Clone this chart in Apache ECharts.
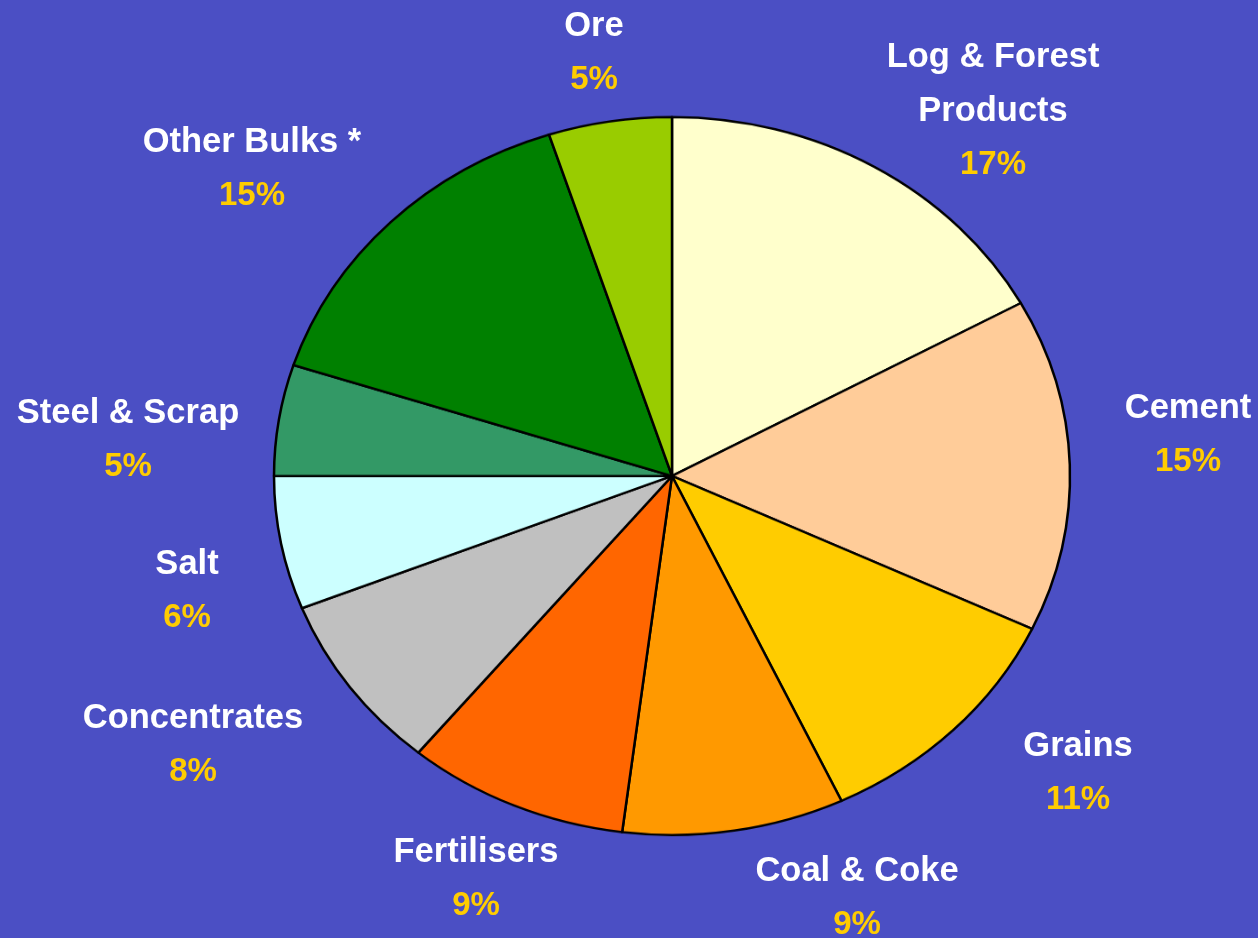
<!DOCTYPE html>
<html>
<head>
<meta charset="utf-8">
<script src="https://cdn.jsdelivr.net/npm/echarts@6/dist/echarts.min.js"></script>
<style>
  html, body { margin: 0; padding: 0; background: #4B4FC4; overflow: hidden; }
  #wrap { position: relative; width: 1258px; height: 938px; }
  #pie { position: absolute; left: 0; top: 0; width: 1258px; transform-origin: 0 0; }
  #labels { position: absolute; left: 0; top: 0; width: 1258px; height: 938px; }
</style>
</head>
<body>
<div id="wrap">
  <div id="pie"></div>
  <div id="labels"></div>
</div>
<script>
// Bulk cargo mix by commodity, percent of tonnage
const categories = ['Log & Forest\nProducts', 'Cement', 'Grains', 'Coal & Coke', 'Fertilisers',
                    'Concentrates', 'Salt', 'Steel & Scrap', 'Other Bulks *', 'Ore'];
const shares = [17, 15, 11, 9, 9, 8, 6, 5, 15, 5];
const sliceColors = ['#FFFFCC', '#FFCC99', '#FFCC00', '#FF9900', '#FF6600',
                     '#C0C0C0', '#CCFFFF', '#339966', '#008000', '#99CC00'];

// Layout: the pie is drawn as an ellipse (vertical squash of a circle)
const W = 1258, H = 938;
const CX = 672, CY = 476, RX = 398, RY = 359;
const SQUASH = RY / RX;

// Label block centres
const labelSpots = [
  [993, 111], [1188, 435], [1078, 773], [857, 898], [476, 879],
  [193, 745], [187, 591], [128, 440], [252, 169], [594, 53]
];

// Slices
const pieEl = document.getElementById('pie');
pieEl.style.height = (H / SQUASH) + 'px';
pieEl.style.transform = 'scaleY(' + SQUASH + ')';
const pieChart = echarts.init(pieEl, null, { renderer: 'canvas' });
pieChart.setOption({
  backgroundColor: 'transparent',
  animation: false,
  series: [{
    type: 'pie',
    center: [CX, CY / SQUASH],
    radius: [0, RX],
    startAngle: 90,
    clockwise: true,
    label: { show: false },
    labelLine: { show: false },
    itemStyle: { borderColor: '#000', borderWidth: 2.5 },
    emphasis: { disabled: true },
    data: categories.map((c, i) => ({
      name: c, value: shares[i], itemStyle: { color: sliceColors[i] }
    }))
  }]
});

// Labels (unsquashed text over invisible sectors)
const labelChart = echarts.init(document.getElementById('labels'), null, { renderer: 'canvas' });
const font = 'Liberation Sans, Arial, sans-serif';
labelChart.setOption({
  backgroundColor: 'transparent',
  animation: false,
  series: [{
    type: 'pie',
    center: [CX, CY],
    radius: [0, RY],
    startAngle: 90,
    clockwise: true,
    silent: true,
    avoidLabelOverlap: false,
    itemStyle: { color: 'rgba(0,0,0,0)', borderWidth: 0 },
    labelLine: { show: false },
    label: {
      show: true,
      position: 'outside',
      formatter: p => '{n|' + p.name.split('\n').join('}\n{n|') + '}\n{p|' + p.value + '%}',
      rich: {
        n: { color: '#FFFFFF', fontFamily: font, fontWeight: 'bold', fontSize: 34.5, lineHeight: 54, align: 'center' },
        p: { color: '#FFCC00', fontFamily: font, fontWeight: 'bold', fontSize: 33, lineHeight: 54, align: 'center' }
      }
    },
    labelLayout: p => ({
      x: labelSpots[p.dataIndex][0],
      y: labelSpots[p.dataIndex][1],
      align: 'center',
      verticalAlign: 'middle'
    }),
    data: categories.map((c, i) => ({ name: c, value: shares[i] }))
  }]
});
</script>
</body>
</html>
